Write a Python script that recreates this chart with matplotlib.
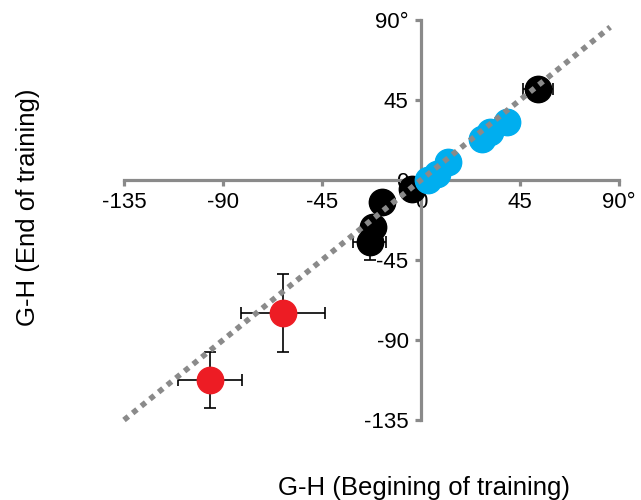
import matplotlib
matplotlib.use("Agg")
import matplotlib.pyplot as plt

plt.rcParams['font.family'] = ['Liberation Sans', 'DejaVu Sans']

# blue group (no visible error bars)
blue_x = [3.2, 7.3, 12.3, 27.7, 31.4, 39.1]
blue_y = [0.0, 3.4, 10.1, 23.1, 27.0, 32.6]

# black group
black_x = [-4.1, -17.7, -21.8, -23.2, 53.2]
black_y = [-5.1, -12.4, -26.4, -34.9, 51.2]
black_xerr = [2, 3, 4, 7.5, 7]
black_yerr = [2, 3, 4, 10, 3]

# red group
red_x = [-62.7, -95.9]
red_y = [-74.8, -112.5]
red_xerr = [19.1, 14.5]
red_yerr = [22.0, 15.5]

ticks = [-135, -90, -45, 0, 45, 90]
tick_labels = ['-135', '-90', '-45', '0', '45', '90°']
ytick_labels = ['-135', '-90', '-45', '0', '45', '90°']

axis_gray = '#8a8a8a'

fig = plt.figure(figsize=(6.41, 5.0), dpi=100)
ax = fig.add_axes([124 / 641, 80 / 500, 495 / 641, 400 / 500])
ax.set_xlim(-135, 90)
ax.set_ylim(-135, 90)

for side in ['top', 'right']:
    ax.spines[side].set_visible(False)
for side in ['left', 'bottom']:
    ax.spines[side].set_position(('data', 0))
    ax.spines[side].set_color(axis_gray)
    ax.spines[side].set_linewidth(2.3)

ax.set_xticks(ticks)
ax.set_xticklabels(tick_labels)
ax.set_yticks(ticks)
ax.set_yticklabels(ytick_labels)
ax.tick_params(axis='both', direction='out', length=4, width=2.3,
               color=axis_gray, labelsize=16, labelcolor='black', pad=5)

# error bars under the markers
ax.errorbar(red_x, red_y, xerr=red_xerr, yerr=red_yerr, fmt='none',
            ecolor='black', elinewidth=1.2, capsize=4, capthick=1.2,
            zorder=3, clip_on=False)
ax.errorbar(black_x, black_y, xerr=black_xerr, yerr=black_yerr, fmt='none',
            ecolor='black', elinewidth=1.2, capsize=4, capthick=1.2,
            zorder=3, clip_on=False)

ax.plot(black_x, black_y, 'o', color='black', markersize=19, zorder=4, clip_on=False)
ax.plot(blue_x, blue_y, 'o', color='#00aeef', markersize=19, zorder=4, clip_on=False)
ax.plot(red_x, red_y, 'o', color='#ed1c24', markersize=19, zorder=4, clip_on=False)

# identity line
ax.plot([-135, 86], [-135, 86], linestyle=(0, (1, 1)), color=axis_gray,
        linewidth=4, zorder=5, clip_on=False)

fig.text(424 / 641, 1 - 488 / 500, 'G-H (Begining of training)', ha='center',
         va='center', fontsize=18.5)
fig.text(28 / 641, 1 - 207 / 500, 'G-H (End of training)', ha='center',
         va='center', rotation=90, fontsize=18.5)

fig.savefig('out.png', dpi=100)
